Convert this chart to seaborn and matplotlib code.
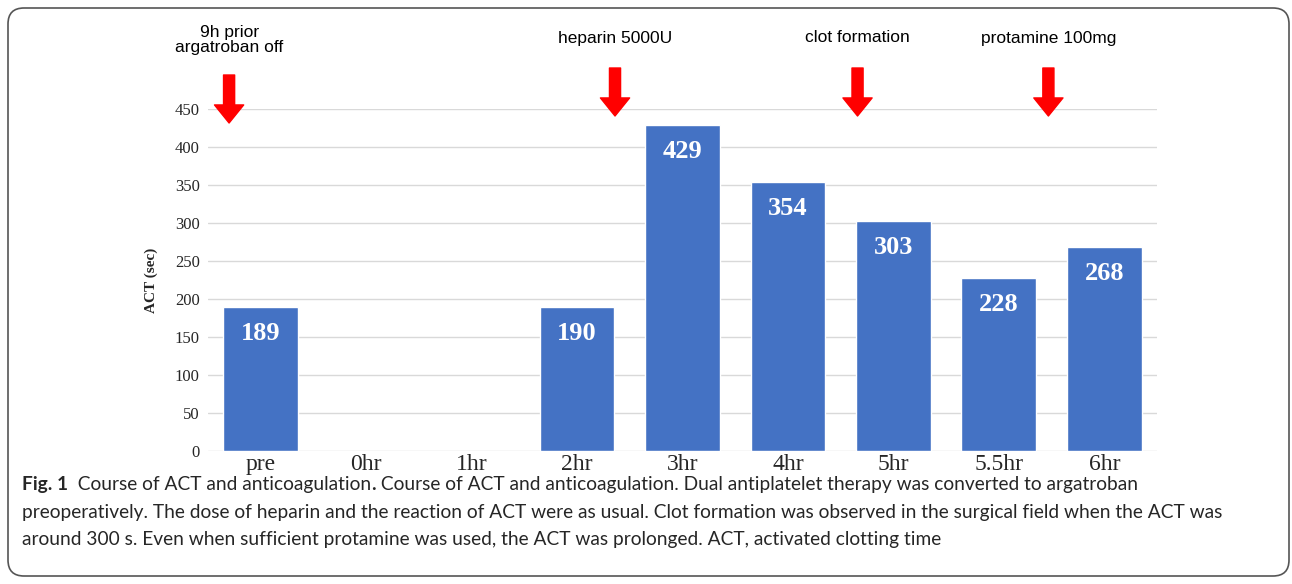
import numpy as np
import pandas as pd
import matplotlib
matplotlib.use("Agg")
import matplotlib.pyplot as plt
import seaborn as sns
from matplotlib.patches import FancyBboxPatch

categories = ["pre", "0hr", "1hr", "2hr", "3hr", "4hr", "5hr", "5.5hr", "6hr"]
act_values = [189, np.nan, np.nan, 190, 429, 354, 303, 228, 268]
y_ticks = [0, 50, 100, 150, 200, 250, 300, 350, 400, 450]
event_labels = ["9h prior\nargatroban off", "heparin 5000U", "clot formation", "protamine 100mg"]
event_x = [-0.30, 3.36, 5.66, 7.47]

caption_lines = [
    "preoperatively. The dose of heparin and the reaction of ACT were as usual. Clot formation was observed in the surgical field when the ACT was",
    "around 300 s. Even when sufficient protamine was used, the ACT was prolonged. ACT, activated clotting time",
]

sns.set_theme(style="white")
plt.rcParams["font.family"] = ["Liberation Serif", "DejaVu Serif"]

fig = plt.figure(figsize=(12.92, 5.84), dpi=100)
ax = fig.add_axes([208 / 1292, 1 - 451 / 584, (1157 - 208) / 1292, (451 - 109) / 584])

df = pd.DataFrame({"cat": categories, "act": act_values})
sns.barplot(data=df, x="cat", y="act", color="#4472C4", saturation=1, width=0.71,
            errorbar=None, ax=ax, zorder=3)

for i, v in enumerate(act_values):
    if not np.isnan(v):
        ax.text(i, v - 35, f"{int(v)}", ha="center", va="center", color="white",
                fontsize=19, fontweight="bold", family="Liberation Serif", zorder=4)

ax.set_ylim(0, 450)
ax.set_xlim(-0.5, 8.5)
ax.set_yticks(y_ticks)
ax.set_yticklabels([str(t) for t in y_ticks], fontsize=12, family="Liberation Serif")
ax.set_xticks(range(len(categories)))
ax.set_xticklabels(categories, fontsize=17, family="Liberation Serif")
ax.tick_params(axis="both", length=0)
ax.tick_params(axis="y", pad=6)
ax.tick_params(axis="x", pad=2)
ax.yaxis.grid(True, color="#d9d9d9", linewidth=1)
ax.set_axisbelow(True)
for s in ax.spines.values():
    s.set_visible(False)
ax.set_xlabel("")
ax.set_ylabel("ACT (sec)", fontsize=11, fontweight="bold", family="Liberation Serif", labelpad=12)

def px2data(py):
    return (451 - py) / 0.76

# event arrows and labels
for k, (x, lab) in enumerate(zip(event_x, event_labels)):
    top_px, tip_px, txt_px = (75, 123, 40) if k == 0 else (68, 116, 38)
    ax.annotate("", xy=(x, px2data(tip_px)), xytext=(x, px2data(top_px)), xycoords="data",
                arrowprops=dict(arrowstyle="simple,head_width=2.1,head_length=1.3,tail_width=0.8",
                                color="#ff0000", shrinkA=0, shrinkB=0, mutation_scale=10),
                annotation_clip=False, zorder=5)
    ax.text(x, px2data(txt_px), lab, ha="center", va="center", fontsize=12.5,
            family="Liberation Sans", color="black", linespacing=1.05, clip_on=False)

# caption
cap_font = "Lato"
cs = 13.8
t1 = fig.text(22 / 1292, 1 - 490 / 584, "Fig. 1", fontsize=cs, fontweight="bold",
              family=cap_font, va="baseline", ha="left")
t2 = ax.annotate("  Course of ACT and anticoagulation", xy=(1, 0), xycoords=t1,
                 va="bottom", ha="left", fontsize=cs, family=cap_font)
t3 = ax.annotate(".", xy=(1, 0), xycoords=t2, va="bottom", ha="left",
                 fontsize=cs, family=cap_font, fontweight="bold")
t4 = ax.annotate(" Course of ACT and anticoagulation. Dual antiplatelet therapy was converted to argatroban",
                 xy=(1, 0), xycoords=t3, va="bottom", ha="left", fontsize=cs, family=cap_font)
for k, line in enumerate(caption_lines):
    fig.text(22 / 1292, 1 - (518 + 27 * k) / 584, line, fontsize=cs, family=cap_font,
             va="baseline", ha="left")

# rounded frame
frame = FancyBboxPatch((8, 8), 1281, 568, boxstyle="round,pad=0,rounding_size=16",
                       transform=None, fill=False, edgecolor="#555555", linewidth=1.2)
fig.patches.append(frame)

fig.savefig("out.png", dpi=100)
